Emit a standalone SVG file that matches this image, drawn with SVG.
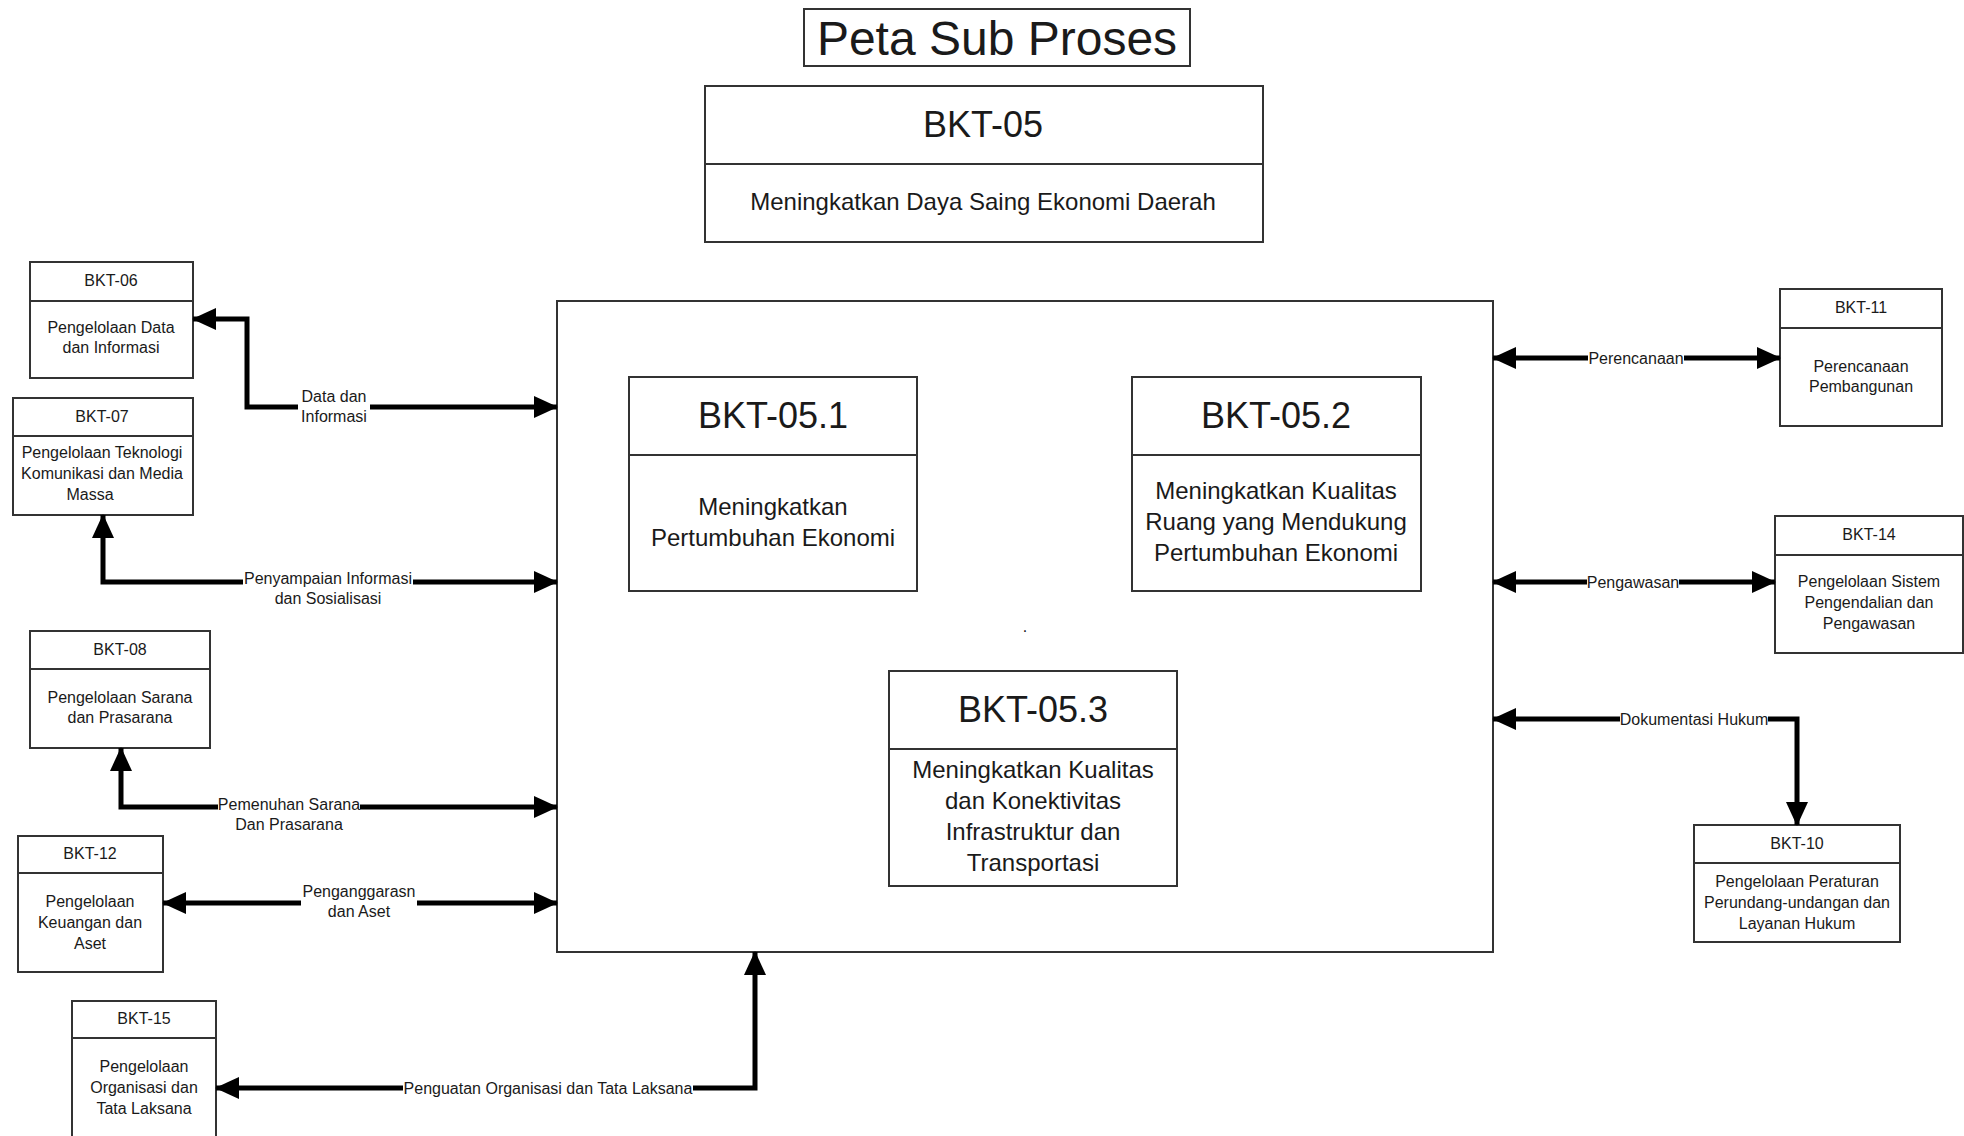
<svg xmlns="http://www.w3.org/2000/svg" width="1964" height="1136" viewBox="0 0 1964 1136">
<defs>
<marker id="ah" viewBox="0 0 24 22" refX="23" refY="11" markerWidth="24" markerHeight="22" markerUnits="userSpaceOnUse" orient="auto-start-reverse">
<path d="M0,0 L24,11 L0,22 z" fill="#000"/>
</marker>
<style>
.box{fill:#fff;stroke:#333;stroke-width:2}
.div{stroke:#333;stroke-width:2}
.t{font-family:"Liberation Sans",Arial,sans-serif;fill:#1a1a1a;text-anchor:middle}
.s16{font-size:16px}
.s24{font-size:24px}
.s36{font-size:36px}
.con{fill:none;stroke:#000;stroke-width:5}
.bg{fill:#fff}
.lbl{font-family:"Liberation Sans",Arial,sans-serif;font-size:16px;fill:#1a1a1a;text-anchor:middle}
</style>
</defs>
<rect width="1964" height="1136" fill="#fff"/>

<g id="title">
<rect class="box" x="804" y="9" width="386" height="57"/>
<text class="t" x="997" y="55" style="font-size:48px">Peta Sub Proses</text>
</g>

<g id="bkt-05">
<rect class="box" x="705" y="86" width="558" height="156"/>
<line class="div" x1="705" y1="164" x2="1263" y2="164"/>
<text class="t s36" x="983" y="137">BKT-05</text>
<text class="t s24" x="983" y="210">Meningkatkan Daya Saing Ekonomi Daerah</text>
</g>

<g id="main-container">
<rect class="box" x="557" y="301" width="936" height="651"/>
<text class="t s16" x="1025" y="632">.</text>
</g>

<g id="bkt-05-1">
<rect class="box" x="629" y="377" width="288" height="214"/>
<line class="div" x1="629" y1="455" x2="917" y2="455"/>
<text class="t s36" x="773" y="428">BKT-05.1</text>
<text class="t s24" x="773" y="515"><tspan x="773">Meningkatkan</tspan><tspan x="773" dy="31">Pertumbuhan Ekonomi</tspan></text>
</g>

<g id="bkt-05-2">
<rect class="box" x="1132" y="377" width="289" height="214"/>
<line class="div" x1="1132" y1="455" x2="1421" y2="455"/>
<text class="t s36" x="1276" y="428">BKT-05.2</text>
<text class="t s24" x="1276" y="499"><tspan x="1276">Meningkatkan Kualitas</tspan><tspan x="1276" dy="31">Ruang yang Mendukung</tspan><tspan x="1276" dy="31">Pertumbuhan Ekonomi</tspan></text>
</g>

<g id="bkt-05-3">
<rect class="box" x="889" y="671" width="288" height="215"/>
<line class="div" x1="889" y1="749" x2="1177" y2="749"/>
<text class="t s36" x="1033" y="722">BKT-05.3</text>
<text class="t s24" x="1033" y="778"><tspan x="1033">Meningkatkan Kualitas</tspan><tspan x="1033" dy="31">dan Konektivitas</tspan><tspan x="1033" dy="31">Infrastruktur dan</tspan><tspan x="1033" dy="31">Transportasi</tspan></text>
</g>

<g id="bkt-06">
<rect class="box" x="30" y="262" width="163" height="116"/>
<line class="div" x1="30" y1="301" x2="193" y2="301"/>
<text class="t s16" x="111" y="286">BKT-06</text>
<text class="t s16" x="111" y="333"><tspan x="111">Pengelolaan Data</tspan><tspan x="111" dy="20">dan Informasi</tspan></text>
</g>

<g id="bkt-07">
<rect class="box" x="13" y="398" width="180" height="117"/>
<line class="div" x1="13" y1="436" x2="193" y2="436"/>
<text class="t s16" x="102" y="422">BKT-07</text>
<text class="t s16" x="102" y="458"><tspan x="102">Pengelolaan Teknologi</tspan><tspan x="102" dy="21">Komunikasi dan Media</tspan><tspan x="90" dy="21">Massa</tspan></text>
</g>

<g id="bkt-08">
<rect class="box" x="30" y="631" width="180" height="117"/>
<line class="div" x1="30" y1="669" x2="210" y2="669"/>
<text class="t s16" x="120" y="655">BKT-08</text>
<text class="t s16" x="120" y="703"><tspan x="120">Pengelolaan Sarana</tspan><tspan x="120" dy="20">dan Prasarana</tspan></text>
</g>

<g id="bkt-12">
<rect class="box" x="18" y="836" width="145" height="136"/>
<line class="div" x1="18" y1="873" x2="163" y2="873"/>
<text class="t s16" x="90" y="859">BKT-12</text>
<text class="t s16" x="90" y="907"><tspan x="90">Pengelolaan</tspan><tspan x="90" dy="21">Keuangan dan</tspan><tspan x="90" dy="21">Aset</tspan></text>
</g>

<g id="bkt-15">
<rect class="box" x="72" y="1001" width="144" height="150"/>
<line class="div" x1="72" y1="1038" x2="216" y2="1038"/>
<text class="t s16" x="144" y="1024">BKT-15</text>
<text class="t s16" x="144" y="1072"><tspan x="144">Pengelolaan</tspan><tspan x="144" dy="21">Organisasi dan</tspan><tspan x="144" dy="21">Tata Laksana</tspan></text>
</g>

<g id="bkt-11">
<rect class="box" x="1780" y="289" width="162" height="137"/>
<line class="div" x1="1780" y1="328" x2="1942" y2="328"/>
<text class="t s16" x="1861" y="313">BKT-11</text>
<text class="t s16" x="1861" y="372"><tspan x="1861">Perencanaan</tspan><tspan x="1861" dy="20">Pembangunan</tspan></text>
</g>

<g id="bkt-14">
<rect class="box" x="1775" y="516" width="188" height="137"/>
<line class="div" x1="1775" y1="555" x2="1963" y2="555"/>
<text class="t s16" x="1869" y="540">BKT-14</text>
<text class="t s16" x="1869" y="587"><tspan x="1869">Pengelolaan Sistem</tspan><tspan x="1869" dy="21">Pengendalian dan</tspan><tspan x="1869" dy="21">Pengawasan</tspan></text>
</g>

<g id="bkt-10">
<rect class="box" x="1694" y="825" width="206" height="117"/>
<line class="div" x1="1694" y1="863" x2="1900" y2="863"/>
<text class="t s16" x="1797" y="849">BKT-10</text>
<text class="t s16" x="1797" y="887"><tspan x="1797">Pengelolaan Peraturan</tspan><tspan x="1797" dy="21">Perundang-undangan dan</tspan><tspan x="1797" dy="21">Layanan Hukum</tspan></text>
</g>

<g id="connectors">
<polyline class="con" points="193,319 247,319 247,407 557,407" marker-start="url(#ah)" marker-end="url(#ah)"/>
<polyline class="con" points="103,515 103,582 557,582" marker-start="url(#ah)" marker-end="url(#ah)"/>
<polyline class="con" points="121,748 121,807 557,807" marker-start="url(#ah)" marker-end="url(#ah)"/>
<line class="con" x1="163" y1="903" x2="557" y2="903" marker-start="url(#ah)" marker-end="url(#ah)"/>
<polyline class="con" points="216,1088 755,1088 755,952" marker-start="url(#ah)" marker-end="url(#ah)"/>
<line class="con" x1="1493" y1="358" x2="1780" y2="358" marker-start="url(#ah)" marker-end="url(#ah)"/>
<line class="con" x1="1493" y1="582" x2="1775" y2="582" marker-start="url(#ah)" marker-end="url(#ah)"/>
<polyline class="con" points="1493,719 1797,719 1797,825" marker-start="url(#ah)" marker-end="url(#ah)"/>

<rect class="bg" x="298" y="385" width="72" height="38"/>
<text class="lbl" x="334" y="402"><tspan x="334">Data dan</tspan><tspan x="334" dy="20">Informasi</tspan></text>

<rect class="bg" x="243" y="570" width="170" height="34"/>
<text class="lbl" x="328" y="584"><tspan x="328">Penyampaian Informasi</tspan><tspan x="328" dy="20">dan Sosialisasi</tspan></text>

<rect class="bg" x="218" y="795" width="142" height="34"/>
<text class="lbl" x="289" y="810"><tspan x="289">Pemenuhan Sarana</tspan><tspan x="289" dy="20">Dan Prasarana</tspan></text>

<rect class="bg" x="301" y="880" width="116" height="38"/>
<text class="lbl" x="359" y="897"><tspan x="359">Penganggarasn</tspan><tspan x="359" dy="20">dan Aset</tspan></text>

<rect class="bg" x="403" y="1078" width="290" height="20"/>
<text class="lbl" x="548" y="1094">Penguatan Organisasi dan Tata Laksana</text>

<rect class="bg" x="1588" y="348" width="96" height="20"/>
<text class="lbl" x="1636" y="364">Perencanaan</text>

<rect class="bg" x="1587" y="572" width="92" height="20"/>
<text class="lbl" x="1633" y="588">Pengawasan</text>

<rect class="bg" x="1620" y="709" width="148" height="20"/>
<text class="lbl" x="1694" y="725">Dokumentasi Hukum</text>
</g>
</svg>
